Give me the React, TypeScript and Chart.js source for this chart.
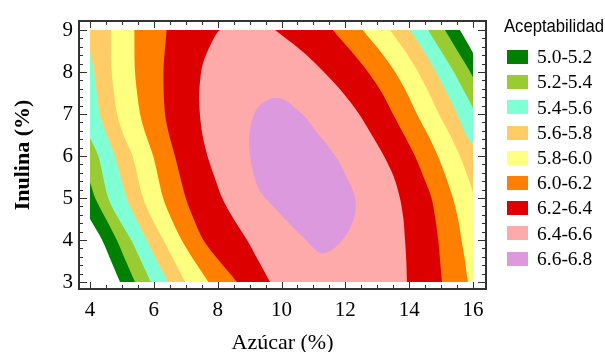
import React, { useEffect, useRef } from 'react';
import { Chart, registerables } from 'chart.js';

Chart.register(...registerables);

// ---- axes ----
const xTicks = [4, 6, 8, 10, 12, 14, 16];
const yTicks = [3, 4, 5, 6, 7, 8, 9];
const xRange = [3.655, 16.407];
const yRange = [2.833, 9.214];
const dataXDomain = [4, 16];
const dataYDomain = [3, 9];
const xTitle = 'Azúcar (%)';
const yTitle = 'Inulina (%)';
const legendTitle = 'Aceptabilidad';

// ---- bands ----
const bandLabels = ['5.0-5.2', '5.2-5.4', '5.4-5.6', '5.6-5.8', '5.8-6.0', '6.0-6.2', '6.2-6.4', '6.4-6.6', '6.6-6.8'];
const bandColors = ['#008000', '#99CC33', '#80FFD4', '#FFCC66', '#FFFF80', '#FF8000', '#DD0000', '#FFAAAA', '#DD99DD'];

// ---- contour rings (x = Azúcar, y = Inulina), region inside = value >= lower bound ----
const contour50: [number, number][] = [[3.0, 9.6], [3.2, 5.6], [3.6, 5.03], [4.0, 4.5], [4.38, 4.0], [4.66, 3.5], [4.94, 3.0], [5.1, 2.7], [17.8, 2.7], [17.4, 5.0], [16.6, 7.4], [16.0, 8.45], [15.59, 9.0], [15.35, 9.35], [15.2, 9.6]];
const contour52: [number, number][] = [[3.0, 9.6], [3.3, 6.4], [3.6, 5.95], [4.0, 5.36], [4.16, 5.0], [4.5, 4.5], [4.84, 4.0], [5.12, 3.5], [5.41, 3.0], [5.58, 2.7], [17.8, 2.7], [17.3, 5.0], [16.5, 7.0], [16.0, 7.88], [15.5, 8.52], [15.12, 9.0], [14.9, 9.3], [14.8, 9.6]];
const contour54: [number, number][] = [[3.0, 9.6], [3.3, 7.6], [3.7, 6.95], [4.0, 6.43], [4.26, 6.0], [4.57, 5.0], [4.9, 4.5], [5.29, 4.0], [5.6, 3.5], [5.9, 3.0], [6.05, 2.7], [17.6, 2.7], [17.0, 5.0], [16.4, 6.4], [16.0, 7.14], [15.75, 7.5], [15.4, 8.0], [15.0, 8.5], [14.59, 9.0], [14.3, 9.35], [14.2, 9.6]];
const contour56: [number, number][] = [[3.6, 9.6], [3.85, 9.0], [4.0, 8.48], [4.13, 8.0], [4.31, 7.0], [4.53, 6.5], [4.78, 6.0], [5.15, 5.0], [5.45, 4.5], [5.78, 4.0], [6.1, 3.5], [6.45, 3.0], [6.62, 2.7], [17.2, 2.7], [16.8, 4.2], [16.3, 5.6], [16.0, 6.26], [15.78, 6.5], [15.5, 7.0], [15.18, 7.5], [14.84, 8.0], [14.46, 8.5], [14.03, 9.0], [13.75, 9.35], [13.6, 9.6]];
const contour58: [number, number][] = [[4.62, 9.6], [4.65, 9.0], [4.68, 8.0], [4.85, 7.0], [5.05, 6.5], [5.33, 6.0], [5.66, 5.0], [5.95, 4.5], [6.3, 4.0], [6.64, 3.5], [6.98, 3.0], [7.17, 2.7], [16.5, 2.7], [16.4, 3.5], [16.2, 4.5], [16.0, 5.12], [15.84, 5.5], [15.59, 6.0], [15.28, 6.5], [14.93, 7.0], [14.62, 7.5], [14.28, 8.0], [13.87, 8.5], [13.4, 9.0], [13.15, 9.35], [13.0, 9.6]];
const contour60: [number, number][] = [[5.38, 9.6], [5.39, 9.0], [5.41, 8.0], [5.57, 7.0], [5.75, 6.5], [5.98, 6.0], [6.29, 5.0], [6.55, 4.5], [6.87, 4.0], [7.27, 3.5], [7.71, 3.0], [7.95, 2.7], [15.95, 2.7], [15.84, 3.0], [15.75, 3.5], [15.64, 4.0], [15.53, 4.5], [15.37, 5.0], [15.15, 5.5], [14.9, 6.0], [14.59, 6.5], [14.24, 7.0], [13.93, 7.5], [13.56, 8.0], [13.09, 8.5], [12.55, 9.0], [12.3, 9.35], [12.1, 9.6]];
const contour62: [number, number][] = [[6.45, 9.6], [6.4, 9.0], [6.3, 8.0], [6.35, 7.0], [6.48, 6.5], [6.66, 6.0], [7.0, 5.0], [7.25, 4.5], [7.55, 4.0], [8.05, 3.5], [8.6, 3.0], [8.85, 2.7], [15.1, 2.7], [15.03, 3.0], [14.97, 3.5], [14.91, 4.0], [14.82, 4.5], [14.7, 5.0], [14.45, 5.5], [14.18, 6.0], [13.84, 6.5], [13.49, 7.0], [13.15, 7.5], [12.71, 8.0], [12.18, 8.5], [11.61, 9.0], [11.35, 9.3], [11.2, 9.6]];
const contour64: [number, number][] = [[8.9, 9.35], [8.07, 9.0], [7.85, 8.76], [7.54, 8.21], [7.45, 7.8], [7.42, 7.3], [7.5, 6.6], [7.68, 6.0], [7.9, 5.5], [8.14, 5.0], [8.5, 4.5], [8.92, 4.0], [9.28, 3.5], [9.64, 3.0], [9.85, 2.7], [13.95, 2.7], [13.93, 3.0], [13.91, 3.5], [13.87, 4.0], [13.82, 4.5], [13.71, 5.0], [13.52, 5.5], [13.21, 6.0], [12.83, 6.5], [12.43, 7.0], [11.93, 7.5], [11.33, 8.0], [10.64, 8.5], [9.8, 9.0], [9.4, 9.25]];
const contour66: [number, number][] = [[9.7, 7.38], [10.02, 7.36], [10.33, 7.21], [10.74, 6.93], [11.05, 6.62], [11.46, 6.24], [11.83, 5.83], [12.08, 5.43], [12.27, 5.12], [12.33, 4.83], [12.27, 4.52], [12.08, 4.19], [11.83, 3.93], [11.52, 3.74], [11.21, 3.69], [10.74, 4.02], [10.2, 4.43], [9.7, 4.83], [9.29, 5.21], [9.11, 5.62], [9.01, 6.02], [8.98, 6.38], [9.04, 6.74], [9.17, 7.05], [9.39, 7.26]];

const contours = [contour50, contour52, contour54, contour56, contour58, contour60, contour62, contour64, contour66];

const serif = '"Liberation Serif", "Times New Roman", Times, serif';
const sans = '"Liberation Sans", Arial, Helvetica, sans-serif';

const framePlugin = {
  id: 'contourFrame',
  beforeDatasetsDraw(chart: any) {
    const { ctx } = chart;
    const xs = chart.scales.x;
    const ys = chart.scales.y;
    const l = xs.getPixelForValue(dataXDomain[0]);
    const r = xs.getPixelForValue(dataXDomain[1]);
    const t = ys.getPixelForValue(dataYDomain[1]);
    const b = ys.getPixelForValue(dataYDomain[0]);
    ctx.save();
    ctx.beginPath();
    ctx.rect(l, t, r - l, b - t);
    ctx.clip();
  },
  afterDatasetsDraw(chart: any) {
    chart.ctx.restore();
  },
  afterDraw(chart: any) {
    const { ctx, chartArea } = chart;
    const { left, right, top, bottom } = chartArea;
    const xs = chart.scales.x;
    const ys = chart.scales.y;
    ctx.save();
    // ticks (inward, all four sides)
    ctx.strokeStyle = '#333';
    ctx.lineWidth = 1;
    ctx.beginPath();
    const nx = Math.round((dataXDomain[1] - dataXDomain[0]) / 0.5);
    for (let i = 0; i <= nx; i++) {
      const v = dataXDomain[0] + i * 0.5;
      const major = xTicks.includes(v);
      const len = major ? 7 : 4;
      const px = Math.round(xs.getPixelForValue(v)) + 0.5;
      ctx.moveTo(px, bottom);
      ctx.lineTo(px, bottom - len);
      ctx.moveTo(px, top);
      ctx.lineTo(px, top + len);
    }
    const ny = Math.round((dataYDomain[1] - dataYDomain[0]) / 0.2);
    for (let i = 0; i <= ny; i++) {
      const v = Math.round((dataYDomain[0] + i * 0.2) * 10) / 10;
      const major = yTicks.includes(v);
      const len = major ? 8 : 4;
      const py = Math.round(ys.getPixelForValue(v)) + 0.5;
      ctx.moveTo(left, py);
      ctx.lineTo(left + len, py);
      ctx.moveTo(right, py);
      ctx.lineTo(right - len, py);
    }
    ctx.stroke();
    // frame
    ctx.strokeStyle = '#333';
    ctx.lineWidth = 2;
    ctx.strokeRect(left, top, right - left, bottom - top);

    // legend
    const lx = right + 21;
    ctx.fillStyle = '#000';
    ctx.font = `19px ${sans}`;
    ctx.textAlign = 'left';
    ctx.textBaseline = 'alphabetic';
    const w = ctx.measureText(legendTitle).width;
    const sx = 100 / w;
    ctx.save();
    ctx.translate(right + 18, 32);
    ctx.scale(sx, 1);
    ctx.fillText(legendTitle, 0, 0);
    ctx.restore();
    ctx.font = `19.5px ${serif}`;
    ctx.textBaseline = 'middle';
    bandLabels.forEach((lab, i) => {
      const cy = 57 + i * 25.2;
      ctx.fillStyle = bandColors[i];
      ctx.fillRect(lx, Math.round(cy - 7), 21, 14);
      ctx.fillStyle = '#000';
      ctx.fillText(lab, lx + 30, cy + 1);
    });
    ctx.restore();
  },
};

export default function App() {
  const ref = useRef<HTMLCanvasElement>(null);
  useEffect(() => {
    const canvas = ref.current;
    if (!canvas) return;
    const datasets = contours.map((ring, i) => ({
      label: bandLabels[i],
      data: ring.map(([x, y]) => ({ x, y })),
      fill: 'shape',
      backgroundColor: bandColors[i],
      borderColor: 'rgba(0,0,0,0)',
      borderWidth: 0,
      pointRadius: 0,
      pointHoverRadius: 0,
      tension: 0.3,
      capBezierPoints: false,
      order: contours.length - i,
    }));
    const chart = new Chart(canvas, {
      type: 'line',
      data: { datasets } as any,
      options: {
        responsive: false,
        animation: false,
        devicePixelRatio: 1,
        events: [],
        layout: { padding: { left: 0, right: 119, top: 21, bottom: 0 } },
        plugins: { legend: { display: false }, tooltip: { enabled: false } },
        scales: {
          x: {
            type: 'linear',
            min: xRange[0],
            max: xRange[1],
            afterBuildTicks: (s: any) => {
              s.ticks = xTicks.map((v) => ({ value: v }));
            },
            afterFit: (s: any) => {
              s.height = 63;
            },
            grid: { display: false, drawTicks: false },
            border: { display: false },
            ticks: {
              font: { family: serif, size: 21 },
              color: '#000',
              padding: 9,
              maxRotation: 0,
              autoSkip: false,
              callback: (v: any) => String(v),
            },
            title: {
              display: true,
              text: xTitle,
              color: '#000',
              font: { family: serif, size: 22, lineHeight: 1 },
              padding: { top: 0, bottom: -2 },
            },
          },
          y: {
            type: 'linear',
            min: yRange[0],
            max: yRange[1],
            afterBuildTicks: (s: any) => {
              s.ticks = yTicks.map((v) => ({ value: v }));
            },
            afterFit: (s: any) => {
              s.width = 79;
            },
            grid: { display: false, drawTicks: false },
            border: { display: false },
            ticks: {
              font: { family: serif, size: 21 },
              color: '#000',
              padding: 6,
              autoSkip: false,
              callback: (v: any) => String(v),
            },
            title: {
              display: true,
              text: yTitle,
              color: '#000',
              font: { family: serif, size: 22, weight: 'bold', lineHeight: 1 },
              padding: { top: 12, bottom: 0 },
            },
          },
        },
      } as any,
      plugins: [framePlugin],
    });
    return () => chart.destroy();
  }, []);
  return (
    <div style={{ position: 'absolute', left: 0, top: 0, width: 605, height: 352, background: '#fff' }}>
      <canvas ref={ref} width={605} height={352} style={{ display: 'block', width: 605, height: 352 }} />
    </div>
  );
}
